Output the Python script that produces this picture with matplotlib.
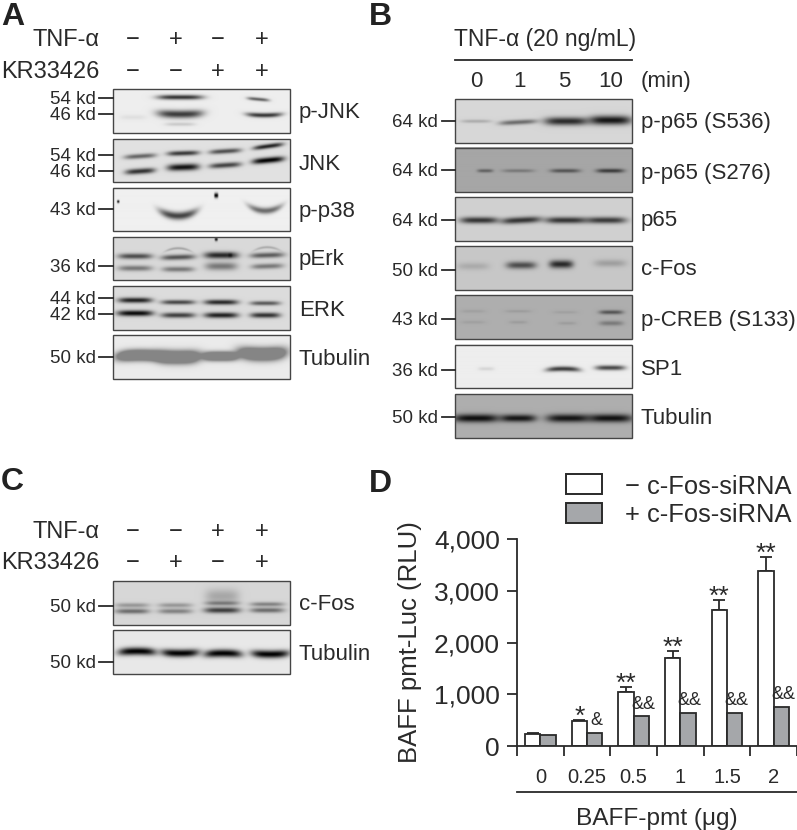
import numpy as np
import matplotlib
matplotlib.use("Agg")
import matplotlib.pyplot as plt
from matplotlib.patches import Rectangle

plt.rcParams["font.family"] = ["Liberation Sans", "DejaVu Sans"]
INK = "#2a2a2a"
DY = 1.7  # text sits a bit lower than matplotlib's va=center

# bar chart values (panel D)
doses = ["0", "0.25", "0.5", "1", "1.5", "2"]
without_sirna = [226, 478, 1053, 1706, 2623, 3373]
with_sirna = [213, 252, 575, 640, 640, 756]
errors = [26, 32, 84, 129, 207, 277]
stars = ["", "*", "**", "**", "**", "**"]
amps = ["", "&", "&&", "&&", "&&", "&&"]

# blot bands, each one: centre x, y, half width, thickness, darkness, curve, tilt
pjnk = [(67, 8, 23, 2, .78, 0, 0), (67, 25, 23, 3.3, .75, -1, 0), (67, 35, 15, 1.5, .15, 0, 0),
        (145, 10, 11, 1.4, .6, 0, 1), (151, 26, 18, 1.9, .78, -1, 0), (20, 28, 13, 2, .06, 0, 0)]
jnk = [(27, 17, 16, 2, .55, 0, -1), (27, 32, 15, 2.3, .78, 0, -1), (70, 14, 16, 2, .75, 0, -.5),
       (70, 28, 16, 2.8, .92, 0, -.5), (112, 12, 16, 2, .65, 0, -1), (112, 26, 16, 2.2, .7, 0, -1),
       (155, 7, 15, 1.9, .85, 0, -2), (155, 21, 16, 2.4, 1, 0, -1.5)]
pp38 = [(65, 28, 19, 3.2, .72, -5, 0), (152, 23, 17, 2.6, .55, -5, 0),
        (5, 14, 1.2, 1.2, .9, 0, 0), (103, 8, 2, 2, 1, 0, 0)]
perk = [(22, 19, 17, 2.3, .65, 0, 0), (22, 31, 17, 2.3, .45, 0, 0), (65, 20, 17, 2.2, .62, 0, -.5),
        (65, 32, 16, 2.2, .45, 0, 0), (65, 11, 13, 1, .25, 3, 0), (108, 18, 17, 2.8, .82, 0, 0),
        (108, 29, 16, 3.3, .45, 0, 0), (154, 18, 17, 2.2, .58, 0, -.5), (154, 29, 16, 2.2, .45, 0, -.5),
        (154, 10, 13, 1, .22, 3, 0), (103, 2, 1.5, 1.5, .9, 0, 0), (117, 18, 2, 1.5, .6, 0, 0)]
erk = [(22, 14, 17, 2.2, .85, 0, 0), (22, 27, 18, 2.4, .96, 0, 0), (65, 16, 17, 1.9, .68, 0, 0),
       (65, 29, 17, 2.2, .72, 0, 0), (108, 16, 17, 2.1, .82, 0, 0), (108, 29, 17, 2.3, .86, 0, 0),
       (152, 17, 15, 1.8, .6, 0, 0), (152, 29, 15, 2.2, .78, 0, 0)]
tub_a = [(27, 20, 24, 4.4, 1, 1.5, 0), (65, 22, 22, 5.2, 1, -1, 0),
         (107, 21, 18, 3.6, 1, 0, 0), (149, 19, 24, 5.2, 1, -2, 0)]

s536 = [(21, 22, 15, 1.4, .2, 0, 0), (63, 23, 19, 2, .5, 0, -1),
        (111, 22, 22, 3.4, .8, 0, 0), (155, 21, 21, 3.8, .9, 0, 0)]
s276 = [(30, 23, 8, 1.4, .42, 0, 0), (63, 23, 16, 1.4, .28, 0, 0),
        (110, 23, 15, 1.6, .5, 0, 0), (155, 23, 14, 1.7, .65, 0, 0)]
p65 = [(24, 23, 19, 2.7, .75, 0, 0), (66, 23, 20, 2.7, .75, 0, -1),
       (111, 23, 21, 2.7, .75, 0, 0), (151, 23, 20, 2.7, .72, 0, 0)]
cfos_b = [(18, 20, 16, 3, .14, 0, 0), (66, 19, 15, 3, .62, 0, 0),
          (106, 18, 12, 3.3, .8, 0, 0), (155, 17, 16, 3, .2, 0, 0)]
creb = [(18, 16, 12, 1.3, .08, 0, 0), (18, 27, 12, 1.3, .08, 0, 0), (63, 16, 13, 1.2, .1, 0, 0),
        (63, 27, 9, 1.3, .1, 0, 0), (110, 17, 12, 1.2, .08, 0, 0), (112, 28, 9, 1.3, .1, 0, 0),
        (156, 17, 12, 1.7, .52, 0, 0), (156, 28, 12, 2, .3, 0, 0)]
sp1 = [(31, 24, 8, 1.5, .1, 0, 0), (108, 24, 17, 2, .75, 1, 0), (155, 23, 15, 2, .7, 0, 0)]
tub_b = [(21, 24, 23, 3.4, .92, 0, 0), (63, 24, 18, 3.1, .88, 0, 0),
         (113, 24, 22, 3.4, .88, 0, 0), (155, 24, 22, 3.4, .9, 0, 0)]

cfos_c = [(19, 24, 17, 1.9, .3, 0, 0), (19, 30, 17, 2.1, .5, 0, 0), (62, 24, 17, 1.9, .3, 0, 0),
          (62, 30, 17, 2.1, .4, 0, 0), (109, 15, 17, 6, .22, 0, 0), (109, 22, 17, 1.8, .4, 0, 0),
          (109, 29, 18, 2.4, .72, 0, 0), (154, 23, 17, 1.8, .4, 0, 0), (154, 29, 17, 2.1, .5, 0, 0)]
tub_c = [(24, 21, 19, 3.2, 1, 1, 0), (67, 23, 19, 3.2, 1, -1, 0),
         (110, 23, 19, 3.2, 1, 1, 0), (157, 24, 19, 3.2, 1, -1, 0)]

# panel contents: bands, background, darkest grey, top and bottom of the blot, its name, y of the name
panel_a = [(pjnk, .93, 0, 89, 133, "p-JNK", 111), (jnk, .88, 0, 139, 182, "JNK", 163),
           (pp38, .94, 0, 188, 231, "p-p38", 210), (perk, .85, 0, 237, 280, "pErk", 258),
           (erk, .86, 0, 286, 330, "ERK", 309), (tub_a, .92, .52, 335, 379, "Tubulin", 358)]
panel_b = [(s536, .84, 0, 99, 143, "p-p65 (S536)", 121), (s276, .65, 0, 148, 192, "p-p65 (S276)", 172),
           (p65, .82, 0, 197, 241, "p65", 219), (cfos_b, .78, 0, 246, 290, "c-Fos", 268),
           (creb, .68, 0, 295, 339, "p-CREB (S133)", 319), (sp1, .93, 0, 345, 388, "SP1", 368),
           (tub_b, .68, 0, 394, 438, "Tubulin", 417)]
panel_c = [(cfos_c, .84, 0, 581, 625, "c-Fos", 603), (tub_c, .91, 0, 630, 674, "Tubulin", 653)]

# molecular weight marks: label and y
kd_a = [("54 kd", 98), ("46 kd", 114), ("54 kd", 155), ("46 kd", 171), ("43 kd", 209),
        ("36 kd", 266), ("44 kd", 298), ("42 kd", 314), ("50 kd", 357)]
kd_b = [("64 kd", 121), ("64 kd", 170), ("64 kd", 220), ("50 kd", 270),
        ("43 kd", 319), ("36 kd", 370), ("50 kd", 417)]
kd_c = [("50 kd", 606), ("50 kd", 662)]

minutes = ["0", "1", "5", "10"]
tnf_a = ["−", "+", "−", "+"]
kr_a = ["−", "−", "+", "+"]
tnf_c = ["−", "−", "+", "+"]
kr_c = ["−", "+", "−", "+"]


def blot_image(bands, bg, floor, w, h):
    # draw each band as a soft smear on a grey membrane
    xx, yy = np.meshgrid(np.arange(w * 2) / 2, np.arange(h * 2) / 2)
    keep = np.ones_like(xx)
    for xc, yc, hw, th, dark, curve, tilt in bands:
        u = (xx - xc) / hw
        mid = yc + curve * u ** 2 + tilt * u
        keep *= 1 - dark * np.exp(-u ** 4) * np.exp(-((yy - mid) / (th * 1.2)) ** 2)
    return np.maximum(bg * keep, floor)


def draw_panel(ax, rows, marks, x0, x1, label_x, tick_x0, text_x):
    for bands, bg, floor, top, bottom, name, name_y in rows:
        ax.imshow(blot_image(bands, bg, floor, x1 - x0, bottom - top), cmap="gray", vmin=0, vmax=1,
                  extent=(x0, x1, bottom, top), aspect="auto", interpolation="bilinear")
        ax.add_patch(Rectangle((x0, top), x1 - x0, bottom - top, fill=False, ec="#454545", lw=1.0))
        ax.text(label_x, name_y + DY, name, fontsize=16, color=INK, va="center", ha="left")
    for label, y in marks:
        ax.plot([tick_x0, x0], [y, y], color=INK, lw=1.3)
        ax.text(text_x, y + DY, label, fontsize=13.5, color=INK, va="center", ha="right")


def draw_signs(ax, row_name, signs, y):
    ax.text(100, y + DY, row_name, fontsize=17, color=INK, va="center", ha="right")
    for x, sign in zip([133, 176, 218, 262], signs):
        ax.text(x, y + DY, sign, fontsize=17, color=INK, va="center", ha="center")


fig = plt.figure(figsize=(7.97, 8.30), dpi=100)

# whole figure axes in pixels for the blots and the text around them
ax = fig.add_axes([0, 0, 1, 1])

draw_panel(ax, panel_a, kd_a, 113, 290, 299, 99, 96)
draw_panel(ax, panel_b, kd_b, 455, 632, 641, 442, 438)
draw_panel(ax, panel_c, kd_c, 113, 290, 299, 99, 96)

draw_signs(ax, "TNF-α", tnf_a, 38)
draw_signs(ax, "KR33426", kr_a, 70)
draw_signs(ax, "TNF-α", tnf_c, 530)
draw_signs(ax, "KR33426", kr_c, 561)

ax.text(545, 38 + DY, "TNF-α (20 ng/mL)", fontsize=16.5, color=INK, va="center", ha="center")
ax.plot([455, 632], [60, 60], color=INK, lw=1.3)
for x, m in zip([476, 520, 564, 611], minutes):
    ax.text(x, 80 + DY, m, fontsize=16, color=INK, va="center", ha="center")
ax.text(641, 80 + DY, "(min)", fontsize=16, color=INK, va="center", ha="left")

# panel letters
for x, y, letter in [(1, 17, "A"), (369, 17, "B"), (1, 482, "C"), (369, 484, "D")]:
    ax.text(x, y, letter, fontsize=23, fontweight="bold", color="#222222", va="center", ha="left",
            family=["Liberation Sans Narrow", "Liberation Sans"])

# legend of panel D
ax.add_patch(Rectangle((566, 474), 36, 20, fc="white", ec=INK, lw=1.4))
ax.add_patch(Rectangle((566, 503), 36, 20, fc="#a5a7aa", ec=INK, lw=1.4))
ax.text(625, 485 + DY, "− c-Fos-siRNA", fontsize=18.4, color=INK, va="center", ha="left")
ax.text(625, 513 + DY, "+ c-Fos-siRNA", fontsize=18.4, color=INK, va="center", ha="left")
ax.plot([517, 797], [792, 792], color=INK, lw=1.3)
ax.text(657, 817 + DY, "BAFF-pmt (μg)", fontsize=17.6, color=INK, va="center", ha="center")

ax.set_xlim(0, 797)
ax.set_ylim(830, 0)
ax.axis("off")

# panel D bars
bx = fig.add_axes([517 / 797, (830 - 746) / 830, 280 / 797, 207 / 830])
bx.patch.set_alpha(0)
pos = np.arange(len(doses)) + 0.5
width = 0.328
bx.errorbar(pos - width / 2, without_sirna, yerr=[np.zeros(len(errors)), errors], fmt="none",
            ecolor=INK, elinewidth=1.3, capsize=4.3, capthick=1.3, zorder=1, clip_on=False)
bx.bar(pos - width / 2, without_sirna, width, color="white", edgecolor=INK, lw=1.3, zorder=2)
bx.bar(pos + width / 2, with_sirna, width, color="#a5a7aa", edgecolor=INK, lw=1.3, zorder=2)

for i in range(len(doses)):
    top = without_sirna[i] + errors[i]
    bx.text(pos[i] - width / 2, top + 60, stars[i], fontsize=19, color=INK, ha="center", va="center")
    bx.text(pos[i] + width / 2 + 0.04, with_sirna[i] + 235, amps[i], fontsize=13, color=INK,
            ha="center", va="center")

bx.set_xlim(0, 6)
bx.set_ylim(0, 4000)
bx.set_xticks(np.arange(7))
bx.set_xticklabels([])
bx.set_xticks(pos, minor=True)
bx.set_xticklabels(doses, minor=True, fontsize=14.5, color=INK)
bx.tick_params(axis="x", which="minor", length=0, pad=16)
bx.tick_params(axis="x", which="major", length=7.2, width=1.3, color=INK)
bx.set_yticks([0, 1000, 2000, 3000, 4000])
bx.set_yticklabels(["0", "1,000", "2,000", "3,000", "4,000"], fontsize=19, color=INK)
bx.tick_params(axis="y", length=7.2, width=1.3, color=INK, pad=5)
bx.set_ylabel("BAFF pmt-Luc (RLU)", fontsize=18.5, color=INK)
bx.yaxis.set_label_coords(-95 / 280, 0.5)
bx.spines["top"].set_visible(False)
bx.spines["right"].set_visible(False)
bx.spines["left"].set_linewidth(1.3)
bx.spines["bottom"].set_linewidth(1.3)
bx.spines["left"].set_color(INK)
bx.spines["bottom"].set_color(INK)

fig.savefig("out.png", dpi=100)
